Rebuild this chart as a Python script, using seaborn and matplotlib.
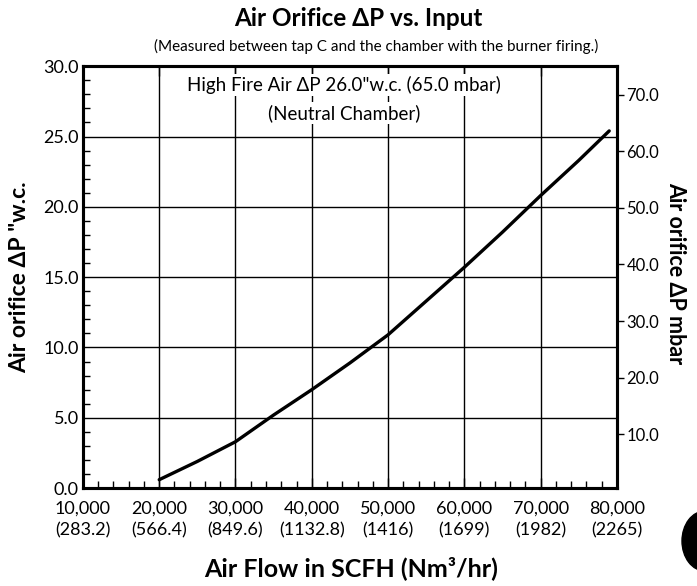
import matplotlib
matplotlib.use("Agg")
import matplotlib.pyplot as plt
import seaborn as sns
from matplotlib.patches import Ellipse
from matplotlib.ticker import MultipleLocator

# values
flow_scfh = [20000, 25000, 30000, 35000, 40000, 45000, 50000, 55000, 60000, 65000, 70000, 75000, 79000]
dp_wc = [0.6, 1.9, 3.3, 5.2, 7.0, 8.9, 10.9, 13.3, 15.7, 18.2, 20.8, 23.3, 25.4]

x_ticks = [10000, 20000, 30000, 40000, 50000, 60000, 70000, 80000]
x_tick_labels = ["10,000\n(283.2)", "20,000\n(566.4)", "30,000\n(849.6)", "40,000\n(1132.8)",
                 "50,000\n(1416)", "60,000\n(1699)", "70,000\n(1982)", "80,000\n(2265)"]
y_ticks = [0, 5, 10, 15, 20, 25, 30]
mbar_ticks = [10, 20, 30, 40, 50, 60, 70]

sns.set_style("ticks")
plt.rcParams["font.family"] = ["Lato", "DejaVu Sans"]
plt.rcParams.update({"text.color": "black", "axes.labelcolor": "black",
                     "xtick.color": "black", "ytick.color": "black",
                     "axes.edgecolor": "black"})

fig = plt.figure(figsize=(6.97, 5.86), dpi=100)
ax = fig.add_axes([0.119, 0.167, 0.766, 0.720])

sns.lineplot(x=flow_scfh, y=dp_wc, ax=ax, color="black", linewidth=2.4)

ax.set_xlim(10000, 80000)
ax.set_ylim(0, 30)
ax.set_xticks(x_ticks)
ax.set_xticklabels(x_tick_labels, fontsize=13, linespacing=1.45)
ax.set_yticks(y_ticks)
ax.set_yticklabels([f"{v:.1f}" for v in y_ticks], fontsize=13)
ax.xaxis.set_minor_locator(MultipleLocator(2000))
ax.yaxis.set_minor_locator(MultipleLocator(1))
ax.tick_params(axis="both", which="major", direction="in", length=0)
ax.tick_params(axis="x", which="major", top=True, length=7, width=1, pad=9)
ax.tick_params(axis="y", which="major", pad=3)
ax.tick_params(axis="both", which="minor", direction="in", length=5, width=1, color="black")
ax.tick_params(axis="y", which="both", right=False)
ax.grid(True, which="major", color="black", linewidth=1.0)

for sp in ax.spines.values():
    sp.set_visible(True)
    sp.set_linewidth(2.2)
    sp.set_color("black")

ax.set_ylabel('Air orifice \u0394P "w.c.', fontsize=16.5, fontweight="bold", va="center")
ax.yaxis.set_label_coords(-0.118, 0.5)
ax.set_xlabel("Air Flow in SCFH (Nm\u00b3/hr)", fontsize=18, fontweight="bold", va="center")
ax.xaxis.set_label_coords(0.503, -0.19)

# right mbar axis
ax2 = ax.twinx()
ax2.set_ylim(0.5, 75.0)
ax2.set_yticks(mbar_ticks)
ax2.set_yticklabels([f"{v:.1f}" for v in mbar_ticks], fontsize=12)
ax2.tick_params(axis="y", direction="out", length=5, width=1, color="black", pad=2)
for sp in ax2.spines.values():
    sp.set_linewidth(2.2)
    sp.set_color("black")
ax2.set_ylabel("Air orifice \u0394P mbar", fontsize=15.5, fontweight="bold",
               rotation=270, va="center")
ax2.yaxis.set_label_coords(1.11, 0.51)

box = dict(facecolor="white", edgecolor="none", pad=1.5)
ax.text(0.489, 0.955, 'High Fire Air \u0394P 26.0"w.c. (65.0 mbar)', transform=ax.transAxes,
        ha="center", va="center", fontsize=13.5, bbox=box)
ax.text(0.489, 0.889, "(Neutral Chamber)", transform=ax.transAxes,
        ha="center", va="center", fontsize=13.5, bbox=box)

fig.text(358 / 697, 1 - 18 / 586, "Air Orifice \u0394P vs. Input", ha="center", va="center",
         fontsize=17.5, fontweight="bold")
fig.text(376 / 697, 1 - 46 / 586, "(Measured between tap C and the chamber with the burner firing.)",
         ha="center", va="center", fontsize=11)

# scanned page mark at the bottom right edge
fig.patches.append(Ellipse((705 / 697, 1 - 541 / 586), 46 / 697, 60 / 586,
                           transform=fig.transFigure, color="black"))

fig.savefig("out.png", dpi=100)
